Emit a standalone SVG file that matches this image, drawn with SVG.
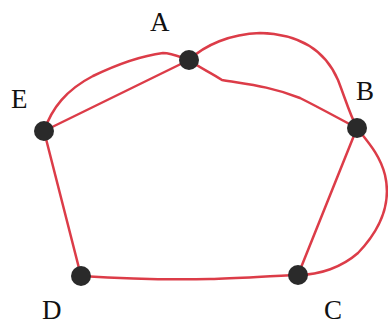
<svg xmlns="http://www.w3.org/2000/svg" width="388" height="325" viewBox="0 0 388 325">
<style>
.e{fill:none;stroke:#dc3c48;stroke-width:2.5;stroke-linecap:round;stroke-linejoin:round}
.n{fill:#2a2a2a}
.l{font-family:"Liberation Serif","Times New Roman",serif;font-size:27px;fill:#111}
</style>
<rect width="388" height="325" fill="#fff"/>
<g id="edges">
<path class="e" d="M44,131 C52,108 66,90 93,76 C118,64 140,56 163,53 C172,53 180,57 189,60"/>
<path class="e" d="M44,131 L189,60"/>
<path class="e" d="M189,60 C205,45 230,34 260,33 C300,34 325,50 338,80 C345,98 350,115 357,128"/>
<path class="e" d="M189,60 C200,68 210,72 222,80 C245,84 270,86 300,98 C320,108 338,118 357,128"/>
<path class="e" d="M357,128 L298,275"/>
<path class="e" d="M357,128 C368,142 380,155 385,175 C392,205 380,230 358,253 C342,267 320,275 298,275"/>
<path class="e" d="M81,276 C130,279 170,280 210,279 C240,278 270,276 298,275"/>
<path class="e" d="M44,131 L81,276"/>
</g>
<g id="A"><circle class="n" cx="189" cy="60" r="10"/><text class="l" x="150" y="31">A</text></g>
<g id="B"><circle class="n" cx="357" cy="128" r="10"/><text class="l" x="356" y="100">B</text></g>
<g id="C"><circle class="n" cx="298" cy="275" r="10"/><text class="l" x="324" y="319">C</text></g>
<g id="D"><circle class="n" cx="81" cy="276" r="10"/><text class="l" x="42" y="319">D</text></g>
<g id="E"><circle class="n" cx="44" cy="131" r="10"/><text class="l" x="11" y="108">E</text></g>
</svg>
